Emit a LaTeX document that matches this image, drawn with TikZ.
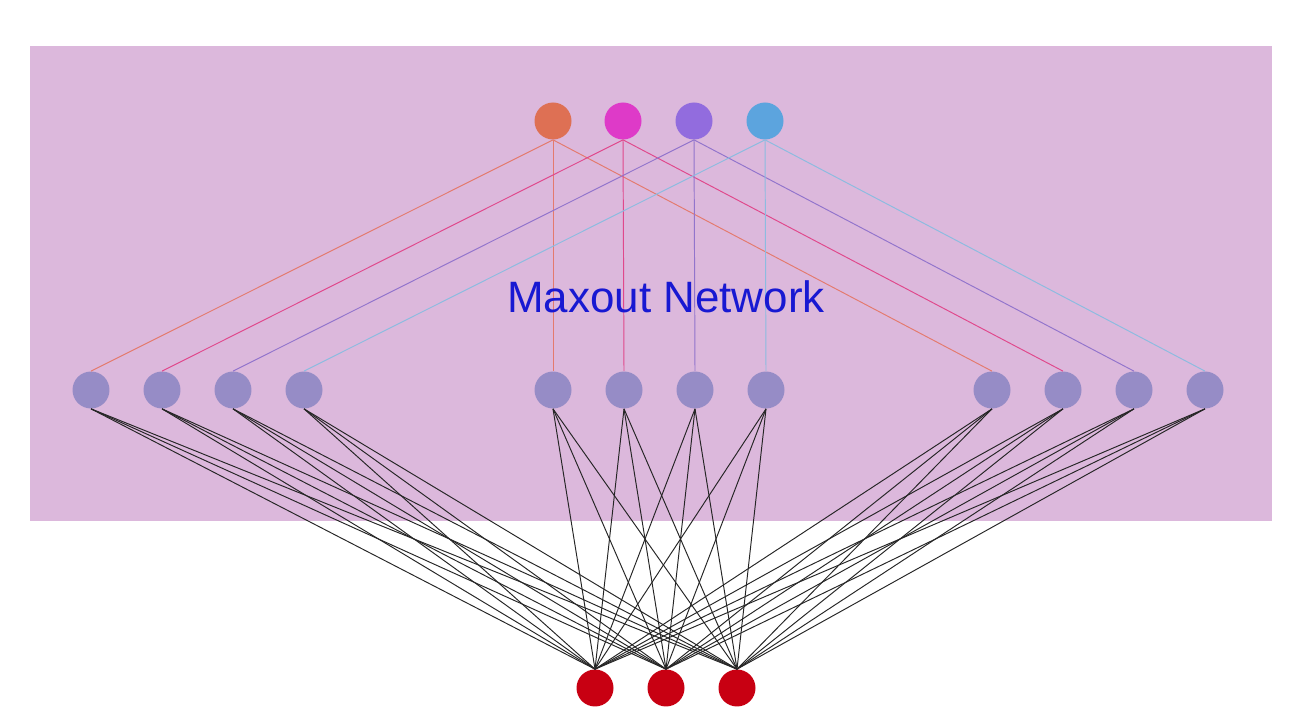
\documentclass[tikz,border=0pt]{standalone}
\usepackage{fontspec}
\setmainfont{Liberation Sans}
\definecolor{bgpink}{RGB}{220,184,220}
\definecolor{outorange}{RGB}{222,112,84}
\definecolor{outmagenta}{RGB}{222,58,200}
\definecolor{outpurple}{RGB}{146,108,222}
\definecolor{outblue}{RGB}{92,164,222}
\definecolor{lineorange}{RGB}{228,122,110}
\definecolor{linemagenta}{RGB}{224,72,140}
\definecolor{linepurple}{RGB}{146,116,204}
\definecolor{lineblue}{RGB}{140,188,224}
\definecolor{hidden}{RGB}{150,140,198}
\definecolor{inred}{RGB}{200,0,18}
\definecolor{labelblue}{RGB}{24,24,210}
\tikzset{
  unit/.style={circle, minimum size=0.74cm, inner sep=0pt, fill=#1},
  wire/.style={line width=0.55pt, draw=#1}
}

\begin{document}
\begin{tikzpicture}[x=0.02cm,y=-0.02cm]
\newcommand{\ytop}{121}
\newcommand{\ymid}{390}
\newcommand{\ybot}{688}

\useasboundingbox (0,0) rectangle (1298,722);
\fill [bgpink] (30,46) rectangle (1272,521);
\node [unit=outorange] (o1) at (553,\ytop) {};
\node [unit=outmagenta] (o2) at (623,\ytop) {};
\node [unit=outpurple] (o3) at (694,\ytop) {};
\node [unit=outblue] (o4) at (765,\ytop) {};
\node [unit=hidden] (h1) at (91,\ymid) {};
\node [unit=hidden] (h2) at (162,\ymid) {};
\node [unit=hidden] (h3) at (233,\ymid) {};
\node [unit=hidden] (h4) at (304,\ymid) {};
\node [unit=hidden] (h5) at (553,\ymid) {};
\node [unit=hidden] (h6) at (624,\ymid) {};
\node [unit=hidden] (h7) at (695,\ymid) {};
\node [unit=hidden] (h8) at (766,\ymid) {};
\node [unit=hidden] (h9) at (992,\ymid) {};
\node [unit=hidden] (h10) at (1063,\ymid) {};
\node [unit=hidden] (h11) at (1134,\ymid) {};
\node [unit=hidden] (h12) at (1205,\ymid) {};
\node [unit=inred] (i1) at (595,\ybot) {};
\node [unit=inred] (i2) at (666,\ybot) {};
\node [unit=inred] (i3) at (737,\ybot) {};
\foreach \i/\c in {1/orange,2/magenta,3/purple,4/blue} {
  \foreach \g in {0,4,8} {
    \pgfmathtruncatemacro{\j}{\i+\g}
    \draw [wire=line\c] (o\i.south) -- (h\j.north);
  }
}
\foreach \j in {1,...,12}
  \foreach \k in {1,2,3}
    \draw [wire=black!85] (h\j.south) -- (i\k.north);
\node [font=\fontsize{25}{30}\selectfont, text=labelblue] (title) at (666,297) {Maxout Network};
\end{tikzpicture}
\end{document}
